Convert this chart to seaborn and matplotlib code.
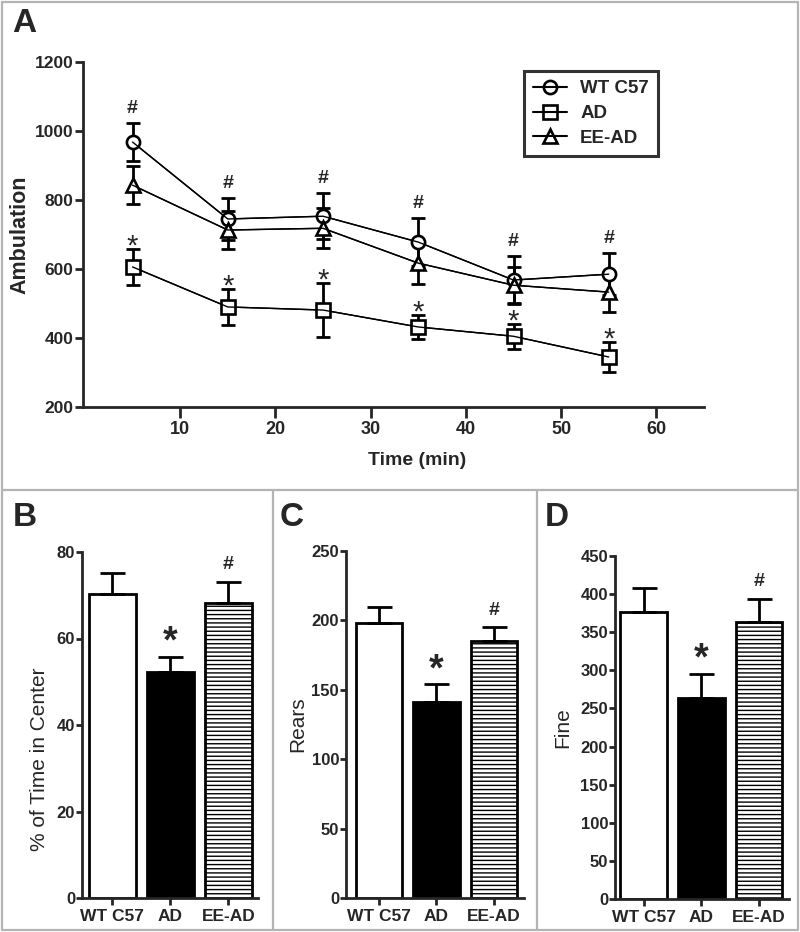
import matplotlib
matplotlib.use("Agg")
import matplotlib.pyplot as plt
from matplotlib.lines import Line2D
import numpy as np
import pandas as pd
import seaborn as sns

# ---------------- data ----------------
times = [5, 15, 25, 35, 45, 55]
wt_mean = [968, 745, 753, 678, 568, 585]
wt_sem = [55, 61, 67, 70, 70, 61]
ad_mean = [606, 490, 481, 432, 405, 345]
ad_sem = [53, 53, 78, 36, 37, 44]
ee_mean = [843, 713, 718, 617, 553, 533]
ee_sem = [55, 55, 58, 60, 52, 57]

groups = ["WT C57", "AD", "EE-AD"]
center_mean = [70.3, 52.3, 68.2]
center_sem = [4.8, 3.4, 4.9]
rears_mean = [198, 141, 185]
rears_sem = [12, 13, 10]
fine_mean = [377, 264, 363]
fine_sem = [31, 31, 31]

# ---------------- style ----------------
sns.set_theme(style="ticks")
plt.rcParams["font.family"] = ["Liberation Sans", "DejaVu Sans"]
plt.rcParams["hatch.color"] = "#8a8a8a"
plt.rcParams["hatch.linewidth"] = 1.0

fig = plt.figure(figsize=(8, 9.32), dpi=100)

# gray panel frame lines
gray = "#b4b4b4"
for (x0, y0, x1, y1) in [(0.002, 0.002, 0.002, 0.998), (0.998, 0.002, 0.998, 0.998),
                         (0.002, 0.998, 0.998, 0.998), (0.002, 0.002, 0.998, 0.002),
                         (0.002, 1 - 490 / 932, 0.998, 1 - 490 / 932),
                         (273 / 800, 0.002, 273 / 800, 1 - 490 / 932),
                         (537 / 800, 0.002, 537 / 800, 1 - 490 / 932)]:
    fig.add_artist(Line2D([x0, x1], [y0, y1], transform=fig.transFigure,
                          color=gray, lw=1.6))

# ---------------- panel A ----------------
axA = fig.add_axes([83 / 800, 1 - 407 / 932, 621 / 800, 345 / 932])
df = pd.DataFrame({
    "time": times * 3,
    "value": wt_mean + ad_mean + ee_mean,
    "group": ["WT C57"] * 6 + ["AD"] * 6 + ["EE-AD"] * 6,
})
markers = {"WT C57": "o", "AD": "s", "EE-AD": "^"}
pal = {"WT C57": "black", "AD": "black", "EE-AD": "black"}

for m, s in [(wt_mean, wt_sem), (ad_mean, ad_sem), (ee_mean, ee_sem)]:
    axA.errorbar(times, m, yerr=s, fmt="none", ecolor="black", elinewidth=2.0,
                 capsize=5, capthick=2.0, zorder=2)

sns.lineplot(data=df, x="time", y="value", hue="group", style="group",
             markers=markers, dashes=False, palette=pal, ax=axA, legend=False,
             lw=1.0, ms=9.5, mfc="white", mec="black", mew=1.9, zorder=3)
sns.lineplot(data=df, x="time", y="value", hue="group", palette=pal, ax=axA,
             legend=False, lw=1.0, zorder=4)

for t, m, s in zip(times, wt_mean, wt_sem):
    axA.annotate("#", xy=(t, m + s), xytext=(0, 7), textcoords="offset points",
                 ha="center", va="baseline", fontsize=14, fontweight="bold")
for t, m, s in zip(times, ad_mean, ad_sem):
    axA.annotate("*", xy=(t, m + s), xytext=(0, -4), textcoords="offset points",
                 ha="center", va="baseline", fontsize=21)

axA.set_xlim(-0.2, 65)
axA.set_ylim(200, 1200)
axA.set_xticks([10, 20, 30, 40, 50, 60])
axA.set_yticks([200, 400, 600, 800, 1000, 1200])
for sp in ["top", "right"]:
    axA.spines[sp].set_visible(False)
for sp in ["left", "bottom"]:
    axA.spines[sp].set_linewidth(2.0)
axA.tick_params(axis="x", length=8, width=2, pad=2, labelsize=13)
axA.tick_params(axis="y", length=6, width=2, pad=1, labelsize=12.5)
for lab in axA.get_xticklabels() + axA.get_yticklabels():
    lab.set_fontweight("bold")
axA.set_xlabel("Time (min)", fontsize=14, fontweight="bold")
axA.xaxis.set_label_coords(0.538, -0.13)
axA.set_ylabel("Ambulation", fontsize=15.5, fontweight="bold")
axA.yaxis.set_label_coords(-0.085, 0.5)

handles = [Line2D([], [], color="black", lw=1.5, marker=markers[g], ms=9.5,
                  mfc="none", mec="black", mew=1.9) for g in groups]
leg = axA.legend(handles, groups, loc="upper left", bbox_to_anchor=(0.71, 0.974),
                 frameon=True, fancybox=False, edgecolor="black", borderaxespad=0,
                 prop={"size": 13.5, "weight": "bold"}, handlelength=1.8,
                 handletextpad=0.7, labelspacing=0.4, borderpad=0.5)
leg.get_frame().set_linewidth(2.2)

# ---------------- bar panels ----------------
bar_specs = [
    ([82 / 800, 1 - 898 / 932, 176 / 800, 346 / 932], center_mean, center_sem,
     (0, 80), [0, 20, 40, 60, 80], "% of Time in Center", (-0.52, 2.51), (-0.19, 0.40)),
    ([346 / 800, 1 - 898 / 932, 178 / 800, 347 / 932], rears_mean, rears_sem,
     (0, 250), [0, 50, 100, 150, 200, 250], "Rears", (-0.22, 0.5)),
    ([615 / 800, 1 - 899 / 932, 174 / 800, 343 / 932], fine_mean, fine_sem,
     (0, 450), list(range(0, 451, 50)), "Fine", (-0.245, 0.5)),
]
bar_xlims = [(-0.52, 2.51), (-0.57, 2.52), (-0.5, 2.52)]
for spec, xlim in zip(bar_specs, bar_xlims):
    rect, means, sems, ylim, yt, ylab = spec[:6]
    lcoords = spec[-1]
    ax = fig.add_axes(rect)
    sns.barplot(x=groups, y=means, hue=groups, palette=["white", "black", "white"],
                legend=False, ax=ax, width=0.81, edgecolor="black", linewidth=2.0,
                saturation=1)
    ax.patches[2].set_hatch("----")
    ax.errorbar(range(3), means, yerr=[np.zeros(3), sems], fmt="none", ecolor="black",
                elinewidth=2.0, capsize=9, capthick=2.0, zorder=1)
    ax.annotate("*", xy=(1, means[1] + sems[1]), xytext=(0, 3), textcoords="offset points",
                ha="center", va="baseline", fontsize=27, fontweight="bold")
    ax.annotate("#", xy=(2, means[2] + sems[2]), xytext=(0, 9), textcoords="offset points",
                ha="center", va="baseline", fontsize=14, fontweight="bold")
    ax.set_xlim(*xlim)
    ax.set_ylim(*ylim)
    ax.set_yticks(yt)
    for sp in ["top", "right"]:
        ax.spines[sp].set_visible(False)
    for sp in ["left", "bottom"]:
        ax.spines[sp].set_linewidth(2.0)
    ax.tick_params(axis="y", length=4, width=2, pad=1, labelsize=12)
    ax.tick_params(axis="x", length=5, width=2, pad=3, labelsize=12.5)
    for lab in ax.get_xticklabels() + ax.get_yticklabels():
        lab.set_fontweight("bold")
    ax.set_ylabel(ylab, fontsize=15)
    ax.yaxis.set_label_coords(*lcoords)
    ax.set_xlabel("")

# panel letters
for letter, x, y in [("A", 12, 23), ("B", 13, 517), ("C", 280, 517), ("D", 545, 517)]:
    fig.text(x / 800, 1 - y / 932, letter, fontsize=24, fontweight="bold",
             ha="left", va="center")

fig.savefig("out.png", dpi=100)
